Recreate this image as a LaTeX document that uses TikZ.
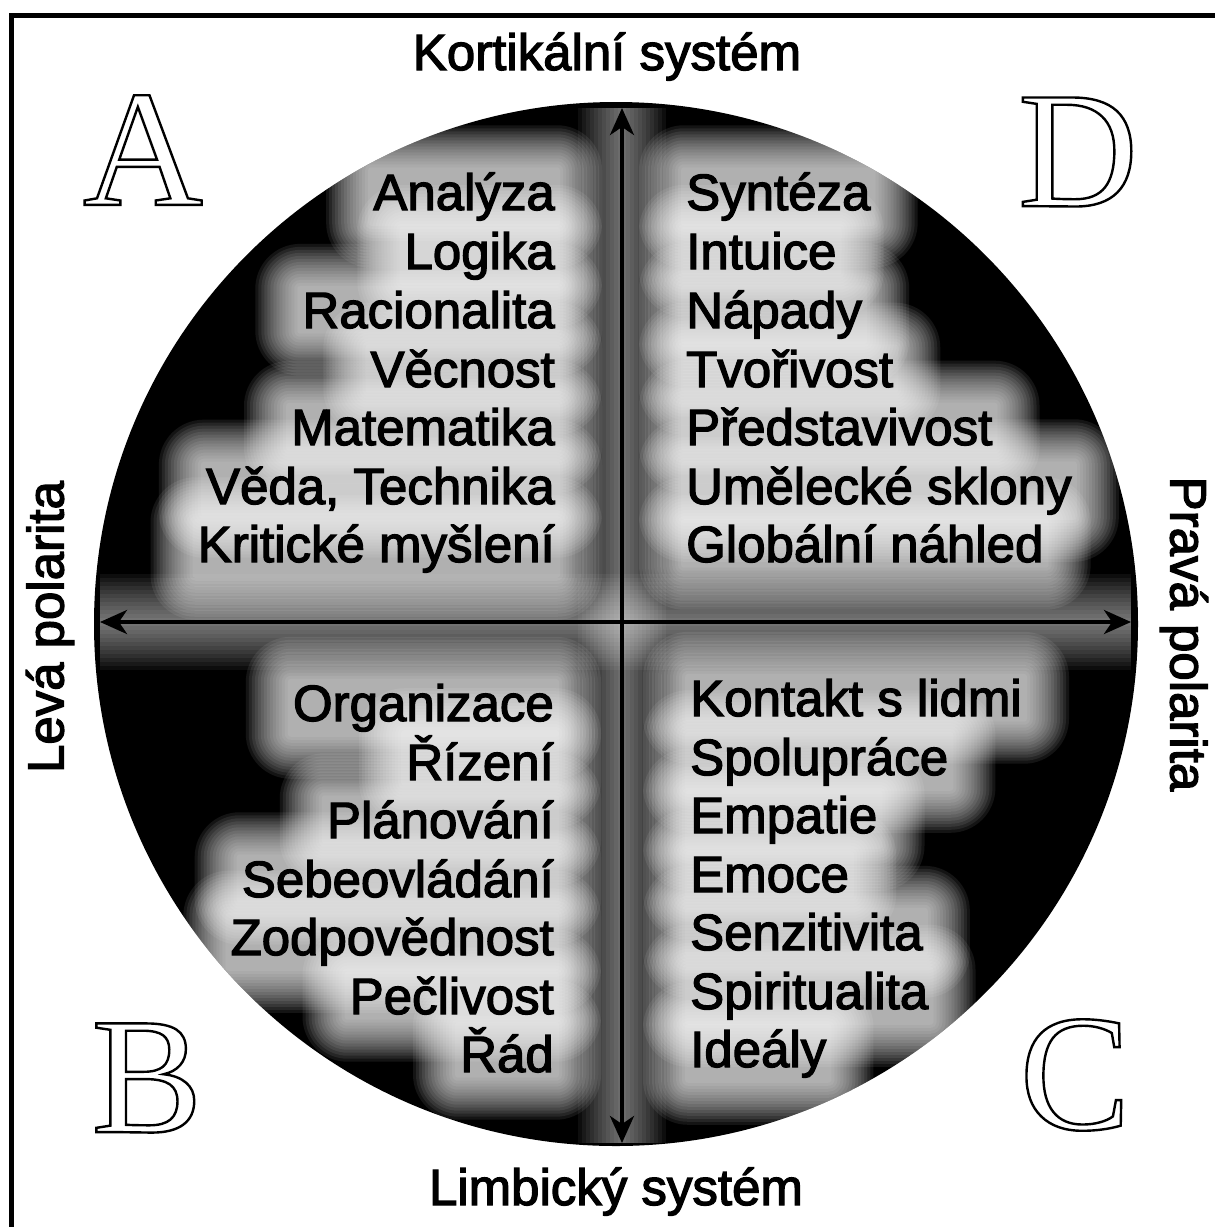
\documentclass[tikz,border=0pt]{standalone}
\usepackage{fontspec}
\newfontfamily\labelfont{Liberation Sans}[FakeBold=2.5]
\newfontfamily\letterfont{Liberation Serif}
\usetikzlibrary{arrows.meta,backgrounds}

% soft light patch behind a node
\newcommand\glow[1]{%
  \foreach \g in {3,6,...,45} {%
    \fill[white,opacity=.08,rounded corners=\g pt]
      ([shift={(-\g,\g)}]#1.south west) rectangle ([shift={(\g,-\g)}]#1.north east);}}
% hollow capital: glyph stroked, not filled
\newcommand\hollow[1]{\special{pdf:literal direct 1 Tr 2.4 w}#1\special{pdf:literal direct 0 Tr}}

\begin{document}
\begin{tikzpicture}[x=1pt,y=-1pt,
  item/.style={font={\labelfont\fontsize{51}{51}\selectfont},inner sep=2pt},
  quad/.style={font={\letterfont\fontsize{166}{166}\selectfont},inner sep=0pt},
  axis/.style={line width=4pt,{Stealth[length=27pt,width=24pt,inset=8pt]}-{Stealth[length=27pt,width=24pt,inset=8pt]}}]
\useasboundingbox (0,0) rectangle (1215,1227);
\draw[line width=5pt] (1215,15) -- (11,15) -- (11,1227);

\coordinate (c) at (616,624);
\coordinate (top) at (622,108);
\coordinate (bot) at (622,1143);
\coordinate (lft) at (100,622);
\coordinate (rgt) at (1131,622);

% quadrant A
\node[item,anchor=base east] (a1) at (557,210) {Analýza};
\node[item,anchor=base east] (a2) at (557,269) {Logika};
\node[item,anchor=base east] (a3) at (557,328) {Racionalita};
\node[item,anchor=base east] (a4) at (557,387) {Věcnost};
\node[item,anchor=base east] (a5) at (557,445) {Matematika};
\node[item,anchor=base east] (a6) at (557,504) {Věda, Technika};
\node[item,anchor=base east] (a7) at (557,562) {Kritické myšlení};

% quadrant D
\node[item,anchor=base west] (d1) at (684,210) {Syntéza};
\node[item,anchor=base west] (d2) at (684,269) {Intuice};
\node[item,anchor=base west] (d3) at (684,328) {Nápady};
\node[item,anchor=base west] (d4) at (684,387) {Tvořivost};
\node[item,anchor=base west] (d5) at (684,445) {Představivost};
\node[item,anchor=base west] (d6) at (684,504) {Umělecké sklony};
\node[item,anchor=base west] (d7) at (684,562) {Globální náhled};

% quadrant B
\node[item,anchor=base east] (b1) at (556,721) {Organizace};
\node[item,anchor=base east] (b2) at (556,780) {Řízení};
\node[item,anchor=base east] (b3) at (556,838) {Plánování};
\node[item,anchor=base east] (b4) at (556,897) {Sebeovládání};
\node[item,anchor=base east] (b5) at (556,955) {Zodpovědnost};
\node[item,anchor=base east] (b6) at (556,1014) {Pečlivost};
\node[item,anchor=base east] (b7) at (556,1072) {Řád};

% quadrant C
\node[item,anchor=base west] (c1) at (688,716) {Kontakt s lidmi};
\node[item,anchor=base west] (c2) at (688,775) {Spolupráce};
\node[item,anchor=base west] (c3) at (688,833) {Empatie};
\node[item,anchor=base west] (c4) at (688,892) {Emoce};
\node[item,anchor=base west] (c5) at (688,950) {Senzitivita};
\node[item,anchor=base west] (c6) at (688,1009) {Spiritualita};
\node[item,anchor=base west] (c7) at (688,1067) {Ideály};

\begin{scope}[on background layer]
\fill[black] (c) circle (522);
\clip (c) circle (522);
\foreach \g in {4,8,...,48}
  \fill[white,opacity=.05] ([yshift=-\g pt]lft) rectangle ([yshift=\g pt]rgt);
\foreach \g in {4,8,...,44}
  \fill[white,opacity=.05] ([xshift=-\g pt]top) rectangle ([xshift=\g pt]bot);
\foreach \q in {a,b,c,d}
  \foreach \i in {1,...,7} {\glow{\q\i}}
\end{scope}

\draw[axis] (bot) -- (top);
\draw[axis] (lft) -- (rgt);

\node[item,anchor=base] (kort) at (607,70) {Kortikální systém};
\node[item,anchor=base] (limb) at (616,1205) {Limbický systém};
\node[item,rotate=90] (lev) at (50,627) {Levá polarita};
\node[item,rotate=-90] (prav) at (1184,634) {Pravá polarita};

\node[quad] (qa) at (143,150) {\hollow{A}};
\node[quad] (qd) at (1078,152) {\hollow{D}};
\node[quad] (qb) at (147,1078) {\hollow{B}};
\node[quad] (qc) at (1075,1075) {\hollow{C}};

\end{tikzpicture}
\end{document}
